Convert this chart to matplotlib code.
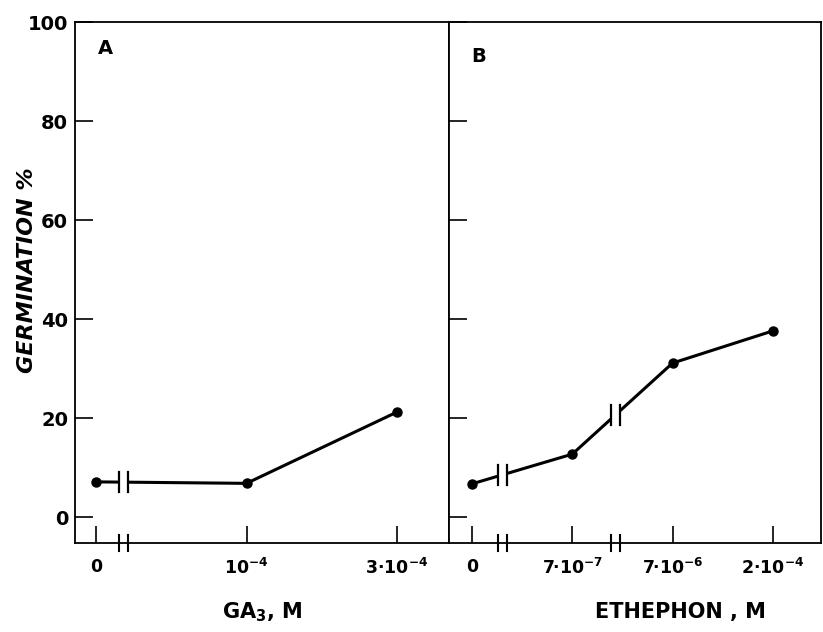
import matplotlib
matplotlib.use("Agg")
import matplotlib.pyplot as plt
import numpy as np

# ---- data ----
ga_labels = ['0', '$10^{-4}$', '3·$10^{-4}$']
ga_pos = [0, 1, 2]
ga_germ = [7.1, 6.8, 21.2]

eth_labels = ['0', '7·$10^{-7}$', '7·$10^{-6}$', '2·$10^{-4}$']
eth_pos = [0, 1, 2, 3]
eth_germ = [6.7, 12.7, 31.1, 37.6]

yticks = [0, 20, 40, 60, 80, 100]
ytick_labels = ['0', '20', '40', '60', '80', '100']

# break positions (layout)
ga_breaks = [0.18]
eth_breaks = [0.30, 1.43]

plt.rcParams['font.family'] = ['DejaVu Sans']
plt.rcParams['mathtext.default'] = 'bf'
fig = plt.figure(figsize=(8.23, 6.32), dpi=100)

W, H = 823, 632
def rect(x0, x1, ytop, ybot):
    return [x0 / W, 1 - ybot / H, (x1 - x0) / W, (ybot - ytop) / H]

axA = fig.add_axes(rect(75, 449, 22, 543))
axB = fig.add_axes(rect(449, 821, 22, 543))

ylim = (-5.25, 100)
px_per_y = (543 - 22) / (ylim[1] - ylim[0])

def style(ax, pos, labels, xlim, show_ylabels):
    ax.set_xlim(*xlim)
    ax.set_ylim(*ylim)
    ax.set_xticks(pos)
    ax.set_xticklabels(labels, fontsize=12.5, fontweight='bold')
    ax.set_yticks(yticks)
    if show_ylabels:
        ax.set_yticklabels(ytick_labels, fontsize=14, fontweight='bold')
    else:
        ax.set_yticklabels([])
    ax.tick_params(axis='x', direction='in', length=12, width=1.2, pad=11)
    ax.tick_params(axis='y', direction='in', length=13, width=1.2, pad=5)
    for s in ax.spines.values():
        s.set_linewidth(1.3)

def draw_series(ax, pos, vals, breaks, xlim):
    ax.plot(pos, vals, color='black', lw=2.2, marker='o', ms=6.5, zorder=3,
            solid_capstyle='round')
    ppx = (W * ax.get_position().width) / (xlim[1] - xlim[0])
    dx = 4.5 / ppx
    hy = 10 / px_per_y
    for b in breaks:
        yb = np.interp(b, pos, vals)
        # gap on the data line
        ax.plot([b - dx, b + dx], [np.interp(b - dx, pos, vals), np.interp(b + dx, pos, vals)],
                color='white', lw=4, zorder=4, solid_capstyle='butt')
        for s in (-1, 1):
            ax.plot([b + s * dx] * 2, [yb - hy, yb + hy], color='black', lw=1.6, zorder=5)
        # marks on x axis
        y0 = ylim[0]
        for s in (-1, 1):
            ax.plot([b + s * dx] * 2, [y0 - 0.8 * hy, y0 + 0.8 * hy],
                    color='black', lw=1.5, zorder=5, clip_on=False)

xlimA = (-0.14, 2.346)
xlimB = (-0.229, 3.48)
style(axA, ga_pos, ga_labels, xlimA, True)
style(axB, eth_pos, eth_labels, xlimB, False)
draw_series(axA, ga_pos, ga_germ, ga_breaks, xlimA)
draw_series(axB, eth_pos, eth_germ, eth_breaks, xlimB)

axA.text(98 / W, 1 - 48 / H, 'A', transform=fig.transFigure, fontsize=14,
         fontweight='bold', ha='left', va='center')
axB.text(471 / W, 1 - 57 / H, 'B', transform=fig.transFigure, fontsize=14,
         fontweight='bold', ha='left', va='center')

fig.text(262 / W, 1 - 612 / H, 'GA$_3$, M', fontsize=15, fontweight='bold',
         ha='center', va='center')
fig.text(680 / W, 1 - 612 / H, 'ETHEPHON , M', fontsize=15, fontweight='bold',
         ha='center', va='center')
fig.text(27 / W, 1 - 270 / H, 'GERMINATION %', fontsize=16, fontstyle='italic',
         fontweight='bold', rotation=90, ha='center', va='center')

fig.savefig('out.png', dpi=100)
